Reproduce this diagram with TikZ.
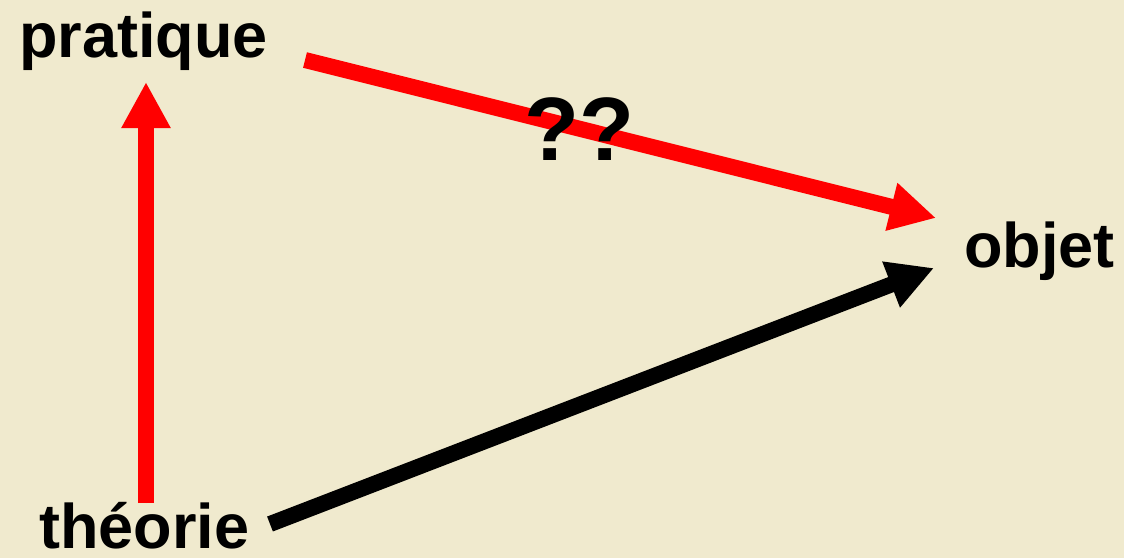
\documentclass[tikz,border=0pt]{standalone}
\usepackage{fontspec}
\setmainfont{Liberation Sans}
\usetikzlibrary{arrows.meta}
\definecolor{parch}{HTML}{F0EACE}
\definecolor{redarr}{HTML}{FF0000}
\tikzset{
  lbl/.style={anchor=base west, inner sep=0pt, font=\fontsize{63}{63}\selectfont\bfseries, text=black},
  qlbl/.style={anchor=base west, inner sep=0pt, font=\fontsize{90}{90}\selectfont\bfseries, text=black},
  bigarrow/.style={line width=16pt, -{Triangle[width=46pt,length=46pt]}},
}
\begin{document}
\begin{tikzpicture}[x=1pt,y=-1pt]
\fill[parch] (0,0) rectangle (1124,558);
\useasboundingbox (0,0) rectangle (1124,558);
\node[lbl] (pratique) at (19,57) {pratique};
\node[lbl] (theorie) at (39,548) {théorie};
\node[lbl] (objet) at (964,267) {objet};
\coordinate (tS) at (146,503);
\coordinate (pT) at (146,82);
\coordinate (pS) at (305,60);
\coordinate (oT1) at (936,218);
\coordinate (tS2) at (270,524);
\coordinate (oT2) at (934,268);
\draw[bigarrow, draw=redarr, fill=redarr] (tS) -- (pT);
\draw[bigarrow, draw=redarr, fill=redarr] (pS) -- (oT1);
\draw[bigarrow, draw=black, fill=black] (tS2) -- (oT2);
\node[qlbl] (qq) at (524,160) {??};
\end{tikzpicture}
\end{document}
